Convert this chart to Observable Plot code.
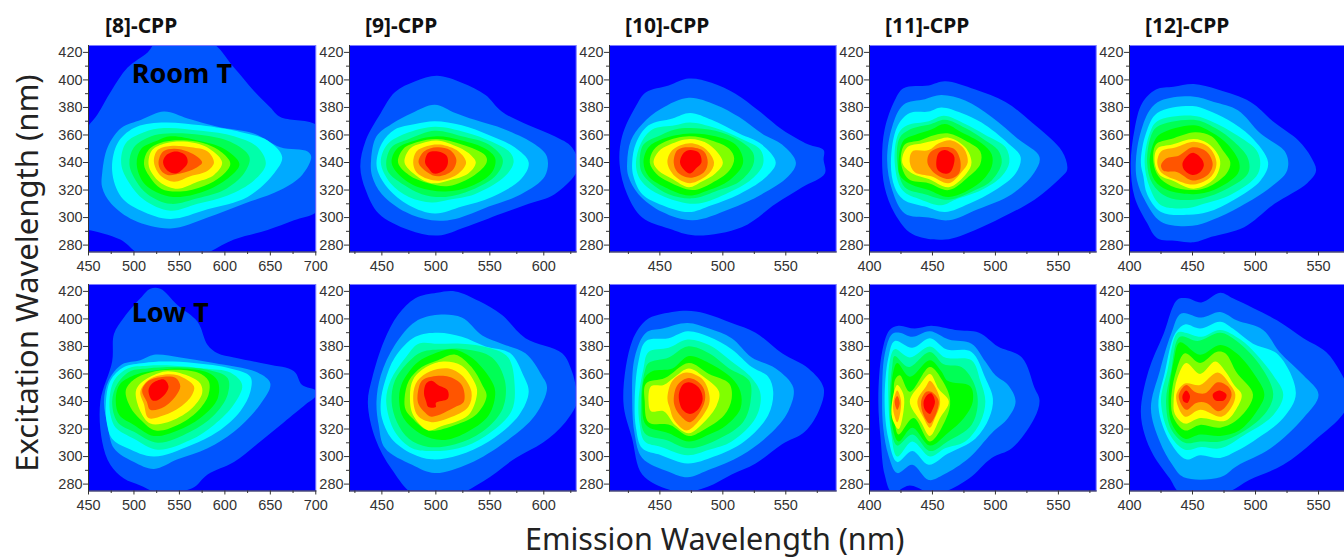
<!DOCTYPE html>
<html>
<head>
<meta charset="utf-8">
<script src="https://cdn.jsdelivr.net/npm/d3@7"></script>
<script src="https://cdn.jsdelivr.net/npm/@observablehq/plot@0.6"></script>
<style>
html,body{margin:0;padding:0;background:#fff;}
#root{position:relative;width:1344px;height:558px;overflow:hidden;background:#fff;}
.t{position:absolute;font-family:"Noto Sans",sans-serif;color:#111;white-space:nowrap;line-height:1;}
.b{font-weight:700;font-size:21px;top:15px;}
</style>
</head>
<body>
<div id="root"></div>
<script>
const titles = ["[8]-CPP","[9]-CPP","[10]-CPP","[11]-CPP","[12]-CPP"];
const levelColors = ["#0000ff","#0055ff","#00aaff","#00ffff","#00ffaa","#00ff55","#00ff00","#80ff00","#ffff00","#ffaa00","#ff5500","#ff0000"];
const excitationTicks = [280,300,320,340,360,380,400,420];
const excitationMinor = [290,310,330,350,370,390,410];
const emissionDomains = [[450,700],[420,630],[410,590],[400,580],[400,570.6]];
const emissionTicks = [[450,500,550,600,650,700],[450,500,550,600],[450,500,550],[400,450,500,550],[400,450,500,550]];
const emissionMinor = [[475,525,575,625,675],[425,475,525,575,625],[425,475,525,575],[425,475,525,575],[425,475,525]];

// contour outlines: [level, emission, excitation, emission, excitation, ...]
const room8 = [
[1,445,360,460,375,475,392,493,409,515,420,526,428,583,428,610,409,632,392,650,380,661,373,705,365,705,307,676,298,647,291,610,284,570,272,510,272,485,284,450,291,445,291],
[2,465,332,471,351,486,365,508,371,533,377,559,372,592,366,632,361,661,351,691,348,695,344,685,331,661,320,621,310,581,300,540,292,500,298,475,310,465,322],
[3,476,334,482,354,500,365,530,369,574,367,618,362,647,356,663,344,654,332,625,315,581,306,540,299,508,305,486,315],
[4,486,339,491,354,511,362,533,365,574,363,610,359,636,351,645,339,632,327,603,316,570,310,540,305,511,313,495,325],
[5,495,339,500,351,519,359,537,361,574,360,606,355,627,344,621,332,599,320,570,314,540,310,515,317,502,327],
[6,503,339,508,350,526,356,540,359,570,356,599,350,616,339,606,330,581,320,551,315,530,317,511,325],
[7,511,339,516,349,533,355,559,356,581,353,599,346,606,339,596,330,577,323,551,319,530,321,517,330],
[8,516,339,520,349,535,354,559,355,583,350,597,340,588,331,570,326,548,321,530,325,520,332],
[9,522,340,526,349,540,352,563,351,581,348,588,340,581,334,562,330,544,326,530,330],
[10,527,340,532,348,544,350,559,348,570,344,575,340,568,336,551,332,537,331,530,334],
[11,532,340,535,345,546,348,557,345,559,340,555,336,546,332,537,334]
];
const low8 = [
[1,463,340,476,369,478,389,489,401,507,415,518,422,529,422,548,410,570,398,581,381,592,375,610,372,647,367,676,362,685,352,700,348,700,344,689,338,665,325,639,311,610,296,581,287,564,277,526,274,507,279,489,284,474,294,465,311],
[2,467,340,472,355,487,367,507,370,522,374,551,372,588,368,636,361,650,353,639,338,610,318,581,306,548,298,522,291,500,296,478,306,471,323],
[3,469,338,474,355,489,365,511,368,533,369,566,368,606,364,628,358,628,347,617,333,592,318,562,308,522,300,493,306,476,313,470,325],
[4,473,340,478,355,493,364,515,366,544,366,577,364,606,361,619,352,610,338,588,323,562,312,526,305,500,313,480,321,475,328],
[5,476,340,482,353,496,362,515,364,548,365,581,363,603,357,603,345,588,330,562,318,526,310,500,318,482,325],
[6,480,340,484,352,500,359,518,362,551,364,581,361,592,355,592,342,573,328,548,319,522,315,500,323,484,330],
[7,491,348,500,356,518,361,540,363,570,361,582,355,582,345,570,333,548,323,524,319,507,327,496,336],
[8,502,347,507,353,518,358,537,362,562,358,573,353,575,346,562,334,537,325,518,324,507,333],
[9,507,347,515,355,529,359,548,359,566,351,564,345,551,336,533,330,516,328,511,338],
[10,509,348,516,355,533,358,546,357,551,351,546,344,533,336,518,334,514,340],
[11,516,348,520,353,533,356,538,351,535,346,526,341,520,341]
];
const room9 = [
[1,430,337,435,356,449,376,462,391,481,399,501,403,524,398,546,389,561,377,586,367,610,359,626,351,632,336,610,317,586,310,561,303,527,293,502,287,475,291,447,303,435,320],
[2,440,342,445,359,459,368,478,376,499,382,518,376,536,371,564,364,592,353,603,344,601,330,579,317,549,308,518,299,496,298,472,304,450,317,441,330],
[3,445,340,450,354,462,364,481,368,499,370,524,367,549,360,573,351,586,340,579,328,552,315,524,308,499,303,475,309,456,321,447,332],
[4,449,340,455,353,472,361,499,366,527,362,552,355,569,347,572,340,564,330,536,317,512,313,496,311,475,315,458,325],
[5,454,340,459,351,475,357,499,363,524,359,549,353,562,342,556,331,533,320,509,315,487,317,466,326,456,333],
[6,459,340,464,350,481,356,501,359,524,356,546,350,555,343,552,333,533,323,509,319,484,322,466,331],
[7,465,340,470,350,484,355,501,357,524,353,546,345,547,340,536,331,512,323,493,325,475,331],
[8,471,340,476,350,487,354,501,356,521,351,533,345,537,340,530,332,512,327,496,325,481,331],
[9,479,340,482,348,492,352,504,353,521,348,528,340,521,332,505,327,493,328,482,333],
[10,484,340,489,348,501,351,513,349,519,342,515,334,502,330,492,333],
[11,490,340,493,347,502,348,510,345,511,339,507,334,498,332,493,336]
];
const low9 = [
[1,437,339,441,357,452,384,465,403,481,415,501,419,518,420,540,413,561,403,583,386,617,375,626,362,630,350,632,342,620,325,599,310,574,299,544,282,518,272,481,272,459,291,444,313],
[2,445,340,449,359,462,381,481,398,502,403,524,401,543,388,561,382,583,375,598,359,603,350,592,330,565,311,531,295,499,288,478,294,453,306,447,323],
[3,449,340,453,355,462,372,481,387,502,390,524,387,546,380,569,375,581,359,586,347,577,330,549,311,521,301,496,298,478,302,459,313,450,328],
[4,454,340,458,355,472,372,484,382,502,382,524,382,549,379,567,372,573,352,570,333,546,315,521,306,496,304,478,306,462,318],
[5,459,340,462,355,475,369,487,376,508,378,527,378,552,372,564,355,562,335,543,318,518,309,493,307,475,313,464,325],
[6,466,340,468,352,481,367,493,373,515,378,533,372,550,357,555,347,549,330,527,317,506,312,487,316,470,328],
[7,471,342,475,355,487,365,502,370,518,374,533,365,543,352,547,344,538,331,518,323,493,319,478,328,472,334],
[8,476,344,479,356,491,365,507,369,524,366,537,352,538,345,530,330,505,322,493,319,479,330],
[9,479,344,483,355,495,362,512,364,524,359,533,347,530,336,512,328,496,325,483,330],
[10,483,344,487,355,496,358,512,358,524,352,526,340,518,336,496,329,490,332,484,338],
[11,489,346,491,353,496,355,502,352,511,348,511,342,500,339,500,336,493,336,491,340]
];
const room10 = [
[1,418,339,420,359,431,381,439,391,457,396,473,401,491,398,510,390,528,378,547,364,568,353,580,349,580,342,581,332,563,322,542,310,515,293,478,287,457,292,436,300,424,317],
[2,424,340,427,356,436,368,451,379,473,387,494,382,513,373,531,361,547,353,558,340,552,330,531,317,505,306,476,298,452,304,433,317,425,330],
[3,428,340,431,354,441,367,460,372,474,376,491,371,513,361,531,353,542,340,535,330,513,317,491,309,473,304,452,309,436,317,429,330],
[4,431,340,435,354,444,364,462,367,474,369,494,365,515,357,530,349,532,339,523,328,502,317,478,310,454,315,440,322,433,330],
[5,434,340,437,353,451,360,462,364,474,365,494,363,513,356,524,347,524,338,513,326,494,319,476,314,457,317,443,325,436,332],
[6,437,340,441,351,452,357,474,361,494,359,510,353,516,343,515,337,505,327,489,320,473,316,454,322,441,330],
[7,442,340,445,349,454,355,473,359,491,356,505,350,509,343,505,334,491,325,476,320,457,326,447,332],
[8,445,340,449,348,458,353,474,357,489,353,500,340,494,332,483,326,473,322,460,328,449,334],
[9,456,340,460,349,474,354,486,350,493,340,489,332,474,325,462,330],
[10,461,340,464,349,474,351,485,348,488,340,485,333,474,329,464,333],
[11,466,340,469,347,474,349,481,347,483,340,479,336,474,332,469,335]
];
const low10 = [
[1,421,340,428,384,439,399,449,403,471,406,486,404,507,397,526,390,547,375,568,364,580,350,577,335,565,318,547,309,526,295,507,287,488,278,470,274,457,276,436,287,428,313],
[2,428,340,430,372,439,390,452,393,472,397,489,393,507,386,523,372,542,364,556,350,552,333,537,316,515,301,488,290,472,285,457,289,436,299,430,316],
[3,430,340,433,369,439,384,457,386,472,391,489,387,507,378,523,365,536,358,540,347,536,330,517,311,493,300,472,295,451,301,436,306,431,321],
[4,433,340,437,364,441,376,457,379,472,385,489,381,507,369,523,357,530,345,526,328,507,311,489,305,472,301,451,307,438,311,434,323],
[5,435,340,438,362,441,368,457,372,472,380,489,375,505,364,521,355,522,340,516,325,497,313,473,306,455,312,438,317],
[6,436,340,438,357,444,362,460,364,473,373,489,368,507,357,514,347,514,335,503,323,489,316,473,311,457,317,439,323],
[7,438,340,439,353,454,357,473,368,489,360,505,353,507,342,501,330,484,319,473,315,458,323,441,325],
[8,441,340,443,351,453,352,462,358,473,364,486,357,497,347,495,337,485,325,473,317,462,323,453,333,443,333],
[9,456,342,460,355,471,361,484,356,489,346,489,338,480,325,471,319,461,327,458,335],
[10,461,342,464,352,473,357,483,352,486,345,484,336,474,325,466,330,462,336],
[11,465,344,468,352,473,354,481,350,484,342,481,335,474,331,468,334]
];
const room11 = [
[1,410,343,412,364,420,385,427,394,447,396,460,399,484,393,508,384,529,369,553,348,557,335,553,330,531,313,505,300,484,291,460,284,434,288,420,303,412,322],
[2,414,342,418,366,427,382,444,386,457,389,476,385,497,373,518,357,535,344,531,333,513,317,486,306,463,298,447,300,428,303,418,320],
[3,417,340,422,366,432,376,447,377,457,380,473,376,489,369,510,354,520,344,516,332,500,320,479,310,460,304,444,308,427,313,420,322],
[4,420,340,423,361,430,367,447,370,459,374,476,368,492,360,508,351,511,340,505,330,489,320,468,313,457,309,441,313,426,320],
[5,422,340,424,358,432,364,449,368,460,371,476,365,492,356,502,349,505,340,497,327,484,320,463,313,444,317,428,322],
[6,423,340,427,356,436,360,449,364,460,368,473,362,489,354,497,346,497,337,487,325,463,315,447,320,431,325,424,331],
[7,425,340,428,353,440,356,452,360,463,361,476,356,488,348,488,339,479,330,463,320,447,325,431,328],
[8,426,340,430,351,442,354,452,356,463,358,476,351,481,340,477,332,463,322,447,328,434,332],
[9,432,340,434,348,447,349,455,354,465,356,475,350,478,340,473,333,463,325,449,330,436,333],
[10,446,340,448,347,457,351,467,350,472,342,471,332,463,328,452,332],
[11,453,340,455,347,460,349,467,345,467,339,464,333,459,332,454,335]
];
const low11 = [
[1,407,342,410,376,416,392,423,395,436,393,449,395,468,392,487,390,502,380,521,372,531,350,535,341,531,328,513,306,497,299,479,284,458,274,447,274,432,279,418,274,412,287,409,311],
[2,410,342,412,374,418,389,424,390,434,387,448,391,463,385,481,382,492,369,500,359,510,352,516,340,510,328,497,317,479,299,459,287,447,283,434,294,422,288,415,301,411,320],
[3,412,340,415,372,420,384,434,379,448,386,461,378,481,376,492,357,498,342,495,328,484,313,462,302,447,294,434,304,422,296,415,313],
[4,415,340,416,369,420,378,432,372,448,380,460,372,481,370,488,355,492,340,488,325,476,311,460,306,448,300,434,311,422,300,417,318],
[5,416,340,418,365,420,373,431,365,448,376,459,367,473,365,482,355,486,340,481,323,462,311,448,304,434,316,422,308,417,321],
[6,417,340,419,362,422,368,432,358,448,370,457,362,462,355,480,351,482,340,475,328,462,317,448,308,434,321,423,311,418,323],
[7,420,340,420,355,424,359,432,347,448,365,458,355,464,341,461,328,448,311,435,328,423,316,420,326],
[8,418,340,422,352,427,345,427,333,423,320,418,328],
[8,432,340,440,352,448,360,455,349,463,340,456,328,448,315,441,325],
[9,419,340,422,348,425,341,424,330,422,325,419,333],
[9,438,340,445,351,448,355,455,345,456,338,452,328,448,321,443,328],
[10,420,340,422,344,424,339,422,334],
[10,441,340,445,347,449,347,455,340,448,324,443,330],
[11,443,340,446,345,449,346,452,340,450,334,448,331,444,334]
];
const room12 = [
[1,401,339,404,364,410,383,421,393,435,395,451,397,470,393,496,384,515,369,534,356,544,344,548,334,541,325,515,310,491,293,465,286,451,282,438,283,422,285,414,296,404,315],
[2,405,340,408,359,416,378,425,385,450,388,467,384,486,378,504,361,524,347,525,334,512,322,488,308,465,298,450,294,425,297,412,313,406,327],
[3,409,340,413,361,422,376,450,381,462,378,478,371,496,359,510,340,504,327,483,313,462,304,447,302,425,304,414,317,411,330],
[4,412,340,416,361,422,370,450,374,462,371,483,361,502,347,502,332,481,317,459,310,447,307,425,309,416,322],
[5,414,340,417,359,422,366,451,371,468,365,483,355,494,343,494,332,473,319,451,313,430,315,418,325],
[6,416,340,420,356,425,361,451,367,465,362,478,353,487,340,486,332,467,320,451,317,430,320,420,327],
[7,419,340,421,353,433,357,452,362,465,359,474,349,480,340,477,332,462,322,449,320,433,323,423,330],
[8,420,340,422,350,434,353,451,357,462,354,470,346,472,339,467,328,451,321,434,327,424,331],
[9,422,340,425,348,437,351,451,355,463,351,469,340,465,330,451,324,435,328,425,333],
[10,425,338,429,343,439,345,450,351,461,348,466,339,462,331,450,327,438,333,427,334],
[11,442,339,446,345,451,347,457,343,459,338,456,333,450,331,444,334]
];
const low12 = [
[1,409,333,415,362,427,389,438,414,446,415,457,412,472,419,482,415,498,408,517,399,538,386,556,376,567,362,574,347,571,333,546,311,522,294,495,283,477,274,440,274,432,284,419,301,412,316],
[2,417,335,424,362,433,389,441,404,457,401,472,405,485,399,506,392,519,376,538,359,550,345,538,328,512,306,485,293,472,285,443,285,434,294,424,311],
[3,423,336,428,361,436,389,444,396,456,393,472,398,482,393,498,382,518,374,532,346,522,328,498,311,485,304,472,299,456,301,445,298,432,311],
[4,425,340,430,362,438,390,444,390,457,387,472,392,488,385,501,374,514,359,522,345,514,330,490,315,472,306,457,307,444,305,432,316],
[5,429,340,433,362,440,387,454,384,472,390,485,384,503,367,514,346,509,333,490,318,472,311,456,311,444,310,433,320],
[6,431,340,435,369,440,383,456,374,472,381,485,375,501,357,507,345,501,333,487,319,472,315,456,316,444,313,434,323],
[7,433,340,437,362,444,375,456,368,469,376,476,375,485,361,498,345,487,328,472,321,456,323,444,319,435,328],
[8,435,340,438,357,445,368,456,360,468,369,476,362,483,352,489,345,485,335,476,326,456,328,444,324,436,331],
[9,437,344,444,353,456,352,470,361,480,352,484,345,481,336,473,329,456,334,444,329],
[10,439,344,445,352,452,347,460,346,470,354,478,351,481,345,475,335,470,333,461,339,453,339,445,334],
[11,442,344,445,348,448,344,446,339,443,340],
[11,466,345,471,348,477,345,475,341,468,341]
];

const rows = [
  {top:45, panels:[room8,room9,room10,room11,room12], note:"Room T"},
  {top:284, panels:[low8,low9,low10,low11,low12], note:"Low T"}
];
const frameLefts = [87.7,349.3,609.3,869.3,1129];
const frameWidths = [227.3,226.7,226.7,226.7,215];
const frameHeight = 206.5;
const M = {l:38,r:1,t:1,b:24};
const root = document.getElementById("root");
const ink = "#333";

function pairs(a){const o=[];for(let i=1;i<a.length;i+=2)o.push([a[i],a[i+1]]);return o;}

rows.forEach(row=>{
  row.panels.forEach((contours,c)=>{
    const marks = [
      Plot.frame({fill:levelColors[0],stroke:"none"}),
      ...contours.map(a=>Plot.line(pairs(a),{x:d=>d[0],y:d=>d[1],fill:levelColors[a[0]],stroke:"none",curve:"catmull-rom-closed",clip:true})),
      Plot.frame({stroke:"#7c7cff",strokeWidth:1}),
      Plot.frame({anchor:"left",stroke:ink}),
      Plot.frame({anchor:"bottom",stroke:ink}),
      Plot.axisY({ticks:excitationTicks,tickSize:5,tickPadding:1,label:null,fontSize:14.5,color:ink,stroke:ink}),
      Plot.axisY({ticks:excitationMinor,tickSize:3,text:null,label:null,stroke:ink}),
      Plot.axisX({ticks:emissionTicks[c],tickSize:4,tickPadding:5,label:null,fontSize:14.5,color:ink,stroke:ink}),
      Plot.axisX({ticks:emissionMinor[c],tickSize:2.5,text:null,label:null,stroke:ink})
    ];
    if(c===0) marks.push(Plot.text([row.note],{x:[497.5],y:[404],text:d=>d,textAnchor:"start",fontFamily:"Noto Sans",fontWeight:700,fontSize:27,fill:"#000"}));
    const svg = Plot.plot({
      width:frameWidths[c]+M.l+M.r,
      height:frameHeight+M.t+M.b,
      marginLeft:M.l,marginRight:M.r,marginTop:M.t,marginBottom:M.b,
      x:{domain:emissionDomains[c],axis:null},
      y:{domain:[275,425],axis:null},
      style:{background:"transparent",overflow:"visible",maxWidth:"none",fontFamily:"Liberation Sans, Arial, sans-serif",position:"absolute",left:(frameLefts[c]-M.l)+"px",top:(row.top-M.t)+"px"},
      marks
    });
    root.appendChild(svg);
  });
});

const titleLefts = [105,365,625,885,1145];
titles.forEach((t,i)=>{
  const d=document.createElement("div");d.className="t b";d.textContent=t;d.style.left=titleLefts[i]+"px";root.appendChild(d);
});
const xl=document.createElement("div");xl.className="t";xl.textContent="Emission Wavelength (nm)";
xl.style.cssText="left:525px;top:521px;font-size:30.5px;line-height:1.15;color:#222;";root.appendChild(xl);
const yl=document.createElement("div");yl.className="t";yl.textContent="Excitation Wavelength (nm)";
yl.style.cssText="left:26px;top:273px;font-size:31px;color:#222;transform:translate(-50%,-50%) rotate(-90deg);";root.appendChild(yl);
</script>
</body>
</html>
